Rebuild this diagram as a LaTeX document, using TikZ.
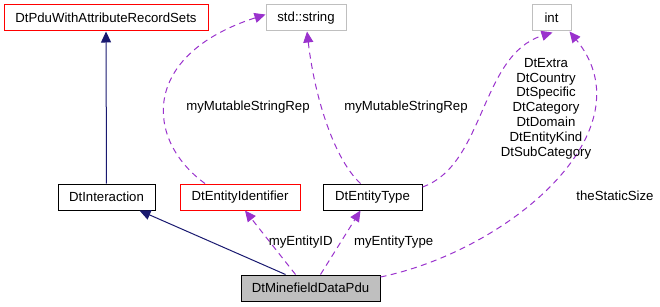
\documentclass[tikz,border=0pt]{standalone}
\usepackage{fontspec}
\setmainfont{Liberation Sans}
\usetikzlibrary{arrows.meta}
\definecolor{inherit}{HTML}{191970}
\definecolor{member}{HTML}{9A32CD}
\definecolor{boxgray}{HTML}{BFBFBF}

\begin{document}
\begin{tikzpicture}[x=1pt, y=-1pt, font=\fontsize{13.2}{14.8}\selectfont,
    cls/.style = {draw, line width=1pt, minimum height=26pt, inner sep=2pt},
    base/.style = {-{Triangle[length=11pt,width=10pt]}, inherit, line width=1pt},
    uses/.style = {-{Triangle[length=11pt,width=10pt]}, member, line width=1pt, dash pattern=on 6pt off 4.5pt},
    lbl/.style = {text=black, inner sep=1pt, align=center}]
    \useasboundingbox (0,0) rectangle (660,307);

    \node[cls, draw=red, minimum width=204pt] (PduSets) at (106,18) {DtPduWithAttributeRecordSets};
    \node[cls, draw=boxgray, minimum width=80pt] (String) at (306,18) {std::string};
    \node[cls, draw=boxgray, minimum width=39pt] (Int) at (551.5,18) {int};

    \node[cls, minimum width=97pt] (Interaction) at (106.5,197) {DtInteraction};
    \node[cls, draw=red, minimum width=120pt] (EntityId) at (240,197) {DtEntityIdentifier};
    \node[cls, minimum width=99pt] (EntityType) at (372.5,197) {DtEntityType};

    \node[cls, fill=boxgray, minimum width=139pt] (Minefield) at (310.5,288) {DtMinefieldDataPdu};

    \path[base] (Interaction) edge (PduSets);
    \path[base] ([xshift=-25pt]Minefield.north) edge ([xshift=33pt]Interaction.south);

    \path[uses] ([xshift=-15pt]Minefield.north) edge node[lbl, pos=0.5, anchor=west, xshift=-3pt] {myEntityID} ([xshift=5pt]EntityId.south);
    \path[uses] ([xshift=10pt]Minefield.north) edge node[lbl, pos=0.5, anchor=west, xshift=12pt] {myEntityType} ([xshift=-12pt]EntityType.south);

    \draw[uses] ([yshift=11pt]Minefield.east) .. controls (510,250) and (650,130) .. ([xshift=18pt]Int.south)
        node[lbl] at (615,196) {theStaticSize};

    \draw[uses] ([xshift=-35pt]EntityId.north) .. controls (145,140) and (140,55) .. ([yshift=-10pt]String.north west)
        node[lbl] at (248,107) {myMutableStringRep};
    \draw[uses] ([xshift=-12pt]EntityType.north) .. controls (335,160) and (315,100) .. ([xshift=1pt]String.south)
        node[lbl] at (406,107) {myMutableStringRep};
    \draw[uses] ([yshift=10pt]EntityType.east) .. controls (485,165) and (480,55) .. ([xshift=-19pt,yshift=-1pt]Int.south east)
        node[lbl] at (546,108.5) {DtExtra\\DtCountry\\DtSpecific\\DtCategory\\DtDomain\\DtEntityKind\\DtSubCategory};
\end{tikzpicture}
\end{document}
